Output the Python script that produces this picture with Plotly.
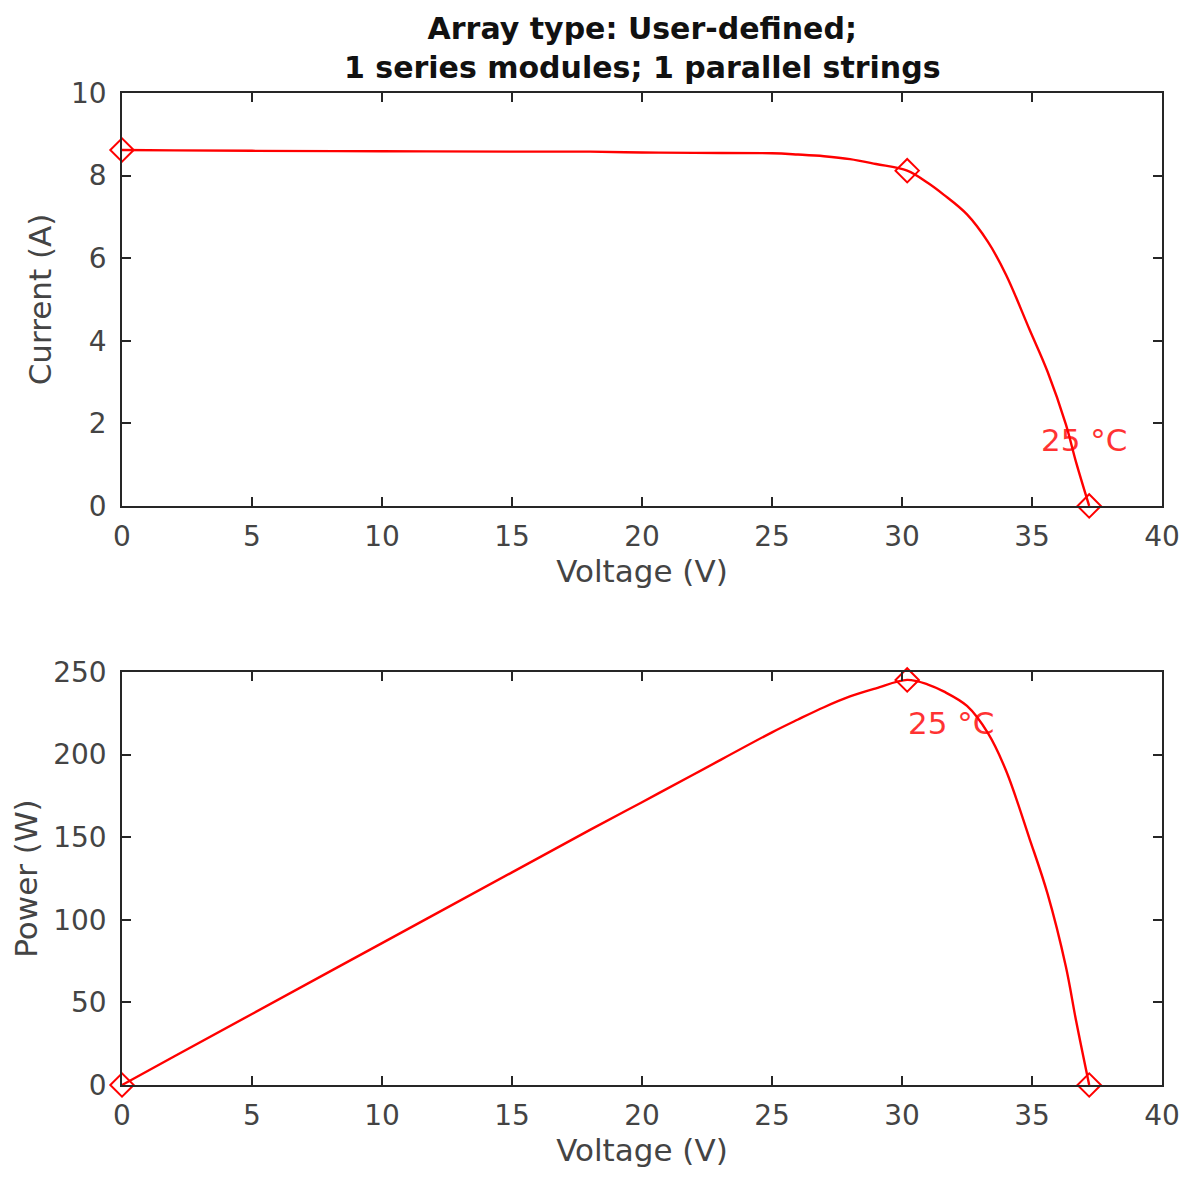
import plotly.graph_objects as go
from plotly.subplots import make_subplots

# Data
voltage = [0, 2, 5, 10, 15, 18, 20, 22, 25, 26, 27, 28, 29, 30.2, 31, 31.6, 32.5, 33.3, 34, 34.9, 35.6, 36.3, 36.7, 37.2]
current = [8.62, 8.61, 8.60, 8.59, 8.58, 8.58, 8.56, 8.55, 8.54, 8.51, 8.47, 8.40, 8.28, 8.12, 7.82, 7.54, 7.06, 6.40, 5.60, 4.28, 3.25, 1.98, 1.05, 0.0]
power = [v * i for v, i in zip(voltage, current)]

key_v = [0, 30.2, 37.2]          # Isc, MPP, Voc
key_i = [8.62, 8.12, 0.0]
key_p = [0, 245.2, 0]

x_ticks = [0, 5, 10, 15, 20, 25, 30, 35, 40]
i_ticks = [0, 2, 4, 6, 8, 10]
p_ticks = [0, 50, 100, 150, 200, 250]
temp_label = "25 °C"

RED = "#ff0000"
AX = "#262626"
TXT = "#444444"
FONT = "DejaVu Sans"

fig = make_subplots(rows=2, cols=1, vertical_spacing=0.167)

line_style = dict(color=RED, width=2.4, shape="spline", smoothing=1.0)
marker_style = dict(symbol="diamond-open", size=18, color=RED, line=dict(width=2, color=RED))

fig.add_trace(go.Scatter(x=voltage, y=current, mode="lines", line=line_style, showlegend=False), row=1, col=1)
fig.add_trace(go.Scatter(x=key_v, y=key_i, mode="markers", marker=marker_style,
                         showlegend=False, cliponaxis=False), row=1, col=1)
fig.add_trace(go.Scatter(x=voltage, y=power, mode="lines", line=line_style, showlegend=False), row=2, col=1)
fig.add_trace(go.Scatter(x=key_v, y=key_p, mode="markers", marker=marker_style,
                         showlegend=False, cliponaxis=False), row=2, col=1)

axis_common = dict(showline=True, linecolor=AX, linewidth=1.5, mirror="allticks",
                   ticks="inside", ticklen=9, tickwidth=1.5, tickcolor=AX,
                   showgrid=False, zeroline=False,
                   tickfont=dict(family=FONT, size=28, color=TXT))
title_font = dict(family=FONT, size=31, color=TXT)

for r in (1, 2):
    fig.update_xaxes(range=[0, 40], tickvals=x_ticks, row=r, col=1, ticklabelstandoff=5,
                     title=dict(text="Voltage (V)", font=title_font, standoff=8),
                     **axis_common)
fig.update_yaxes(range=[0, 10], tickvals=i_ticks, row=1, col=1, ticklabelstandoff=8,
                 title=dict(text="Current (A)", font=title_font, standoff=10),
                 **axis_common)
fig.update_yaxes(range=[0, 250], tickvals=p_ticks, row=2, col=1, ticklabelstandoff=8,
                 title=dict(text="Power (W)", font=title_font, standoff=8),
                 **axis_common)

fig.add_annotation(x=37.0, y=1.6, xref="x", yref="y", text=temp_label, showarrow=False,
                   font=dict(family=FONT, size=31, color=RED), opacity=0.8)
fig.add_annotation(x=31.9, y=219, xref="x2", yref="y2", text=temp_label, showarrow=False,
                   font=dict(family=FONT, size=31, color=RED), opacity=0.8)

fig.add_annotation(x=0.5, y=1.0, xref="paper", yref="paper", yshift=6, yanchor="bottom",
                   text="<b>Array type: User-defined;<br>1 series modules; 1 parallel strings</b>",
                   showarrow=False, font=dict(family=FONT, size=30, color="#111111"))

fig.update_layout(width=1192, height=1178, paper_bgcolor="white", plot_bgcolor="white",
                  margin=dict(l=114, r=38, t=85, b=101))
fig.update_layout(yaxis=dict(domain=[0.5837, 1.0]), yaxis2=dict(domain=[0.0, 0.4163]))

fig.write_html("out.html")
